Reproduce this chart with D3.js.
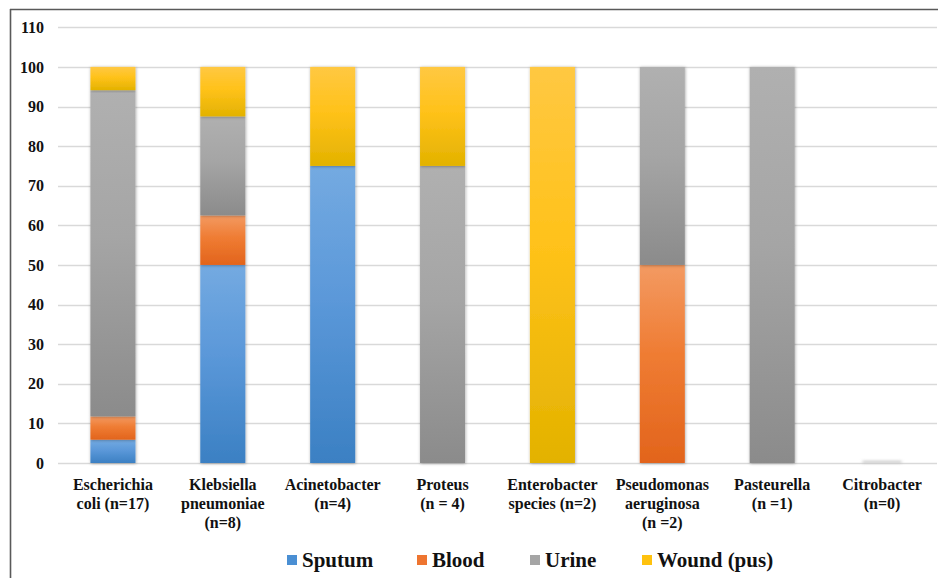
<!DOCTYPE html>
<html>
<head>
<meta charset="utf-8">
<script src="https://cdn.jsdelivr.net/npm/d3@7"></script>
<style>
  html, body { margin: 0; padding: 0; background: #fff; }
  svg { display: block; }
</style>
</head>
<body>
<svg id="chart" width="941" height="578"></svg>
<script>
// Organisms (x-axis labels, one entry per line)
const categories = ["E. coli", "K. pneumoniae", "Acinetobacter", "Proteus", "Enterobacter", "P. aeruginosa", "Pasteurella", "Citrobacter"];
const labelLines = [
  ["Escherichia", "coli (n=17)"],
  ["Klebsiella", "pneumoniae", "(n=8)"],
  ["Acinetobacter", "(n=4)"],
  ["Proteus", "(n = 4)"],
  ["Enterobacter", "species (n=2)"],
  ["Pseudomonas", "aeruginosa", "(n =2)"],
  ["Pasteurella", "(n =1)"],
  ["Citrobacter", "(n=0)"]
];

// Percentage of isolates by specimen type
const sputum = [5.88, 50, 75, 0, 0, 0, 0, 0];
const blood  = [5.88, 12.5, 0, 0, 0, 50, 0, 0];
const urine  = [82.36, 25, 0, 75, 0, 50, 100, 0];
const wound  = [5.88, 12.5, 25, 25, 100, 0, 0, 0];

const seriesNames = ["Sputum", "Blood", "Urine", "Wound (pus)"];
const yTicks = [0, 10, 20, 30, 40, 50, 60, 70, 80, 90, 100, 110];

const FONT = "'Liberation Serif', 'Times New Roman', serif";

// Gradient stops per series: top, middle, bottom
const palette = {
  "Sputum":      ["#74aae1", "#5b98d9", "#3b80c3"],
  "Blood":       ["#f39a62", "#ef7c33", "#e2641c"],
  "Urine":       ["#b0b0b0", "#a5a5a5", "#8b8b8b"],
  "Wound (pus)": ["#ffc842", "#ffc21a", "#e3b200"]
};
const legendColor = {
  "Sputum": "#4a8fd3", "Blood": "#ee7530", "Urine": "#a5a5a5", "Wound (pus)": "#ffc20e"
};

const rows = categories.map((c, i) => ({
  cat: c, "Sputum": sputum[i], "Blood": blood[i], "Urine": urine[i], "Wound (pus)": wound[i]
}));

const svg = d3.select("#chart");
const defs = svg.append("defs");

seriesNames.forEach((s, k) => {
  const g = defs.append("linearGradient")
    .attr("id", "grad" + k).attr("x1", 0).attr("y1", 0).attr("x2", 0).attr("y2", 1);
  g.append("stop").attr("offset", "0%").attr("stop-color", palette[s][0]);
  g.append("stop").attr("offset", "45%").attr("stop-color", palette[s][1]);
  g.append("stop").attr("offset", "100%").attr("stop-color", palette[s][2]);
});

const shadow = defs.append("filter").attr("id", "shadow")
  .attr("x", "-30%").attr("y", "-10%").attr("width", "160%").attr("height", "120%");
shadow.append("feDropShadow").attr("dx", 0.5).attr("dy", 0.5)
  .attr("stdDeviation", 1.6).attr("flood-color", "#000").attr("flood-opacity", 0.35);

const blurF = defs.append("filter").attr("id", "soft")
  .attr("x", "-50%").attr("y", "-300%").attr("width", "200%").attr("height", "700%");
blurF.append("feGaussianBlur").attr("stdDeviation", 1.5);

// Frame
svg.append("line").attr("x1", 10).attr("x2", 938).attr("y1", 9.5).attr("y2", 9.5)
  .attr("stroke", "#595959").attr("stroke-width", 1.6);
svg.append("line").attr("x1", 10.5).attr("x2", 10.5).attr("y1", 9).attr("y2", 578)
  .attr("stroke", "#595959").attr("stroke-width", 1.6);

const x = d3.scaleBand().domain(categories).range([58, 937]).paddingInner(0.59).paddingOuter(0.295);
const y = d3.scaleLinear().domain([0, 110]).range([463, 27.3]);

// Gridlines
svg.append("g").selectAll("line").data(yTicks).join("line")
  .attr("x1", 58).attr("x2", 937)
  .attr("y1", d => Math.round(y(d)) + 0.5).attr("y2", d => Math.round(y(d)) + 0.5)
  .attr("stroke", "#d9d9d9").attr("stroke-width", 1.5);

// Y axis labels
const yAxis = d3.axisLeft(y).tickValues(yTicks).tickSize(0).tickPadding(0).tickFormat(d3.format("d"));
const yg = svg.append("g").attr("transform", "translate(44,0)").call(yAxis);
yg.select(".domain").remove();
yg.selectAll("text")
  .style("font-family", FONT).style("font-weight", "bold").style("font-size", "16px")
  .attr("fill", "#111").attr("dy", "0.32em");

// Stacked bars
const stacked = d3.stack().keys(seriesNames)(rows);
const barG = svg.append("g");
stacked.forEach((layer, k) => {
  barG.append("g").selectAll("rect")
    .data(layer.filter(d => d[1] - d[0] > 0))
    .join("rect")
    .attr("x", d => x(d.data.cat))
    .attr("width", x.bandwidth())
    .attr("y", d => y(d[1]))
    .attr("height", d => y(d[0]) - y(d[1]))
    .attr("fill", "url(#grad" + k + ")")
    .attr("filter", "url(#shadow)");
});

// Faint shadow for empty columns
svg.append("g").selectAll("rect")
  .data(rows.filter(r => seriesNames.every(s => r[s] === 0)))
  .join("rect")
  .attr("x", d => x(d.cat) + 3)
  .attr("width", x.bandwidth() - 6)
  .attr("y", y(0) - 2).attr("height", 2)
  .attr("fill", "#bdbdbd").attr("filter", "url(#soft)");

// X labels
const xl = svg.append("g");
categories.forEach((c, i) => {
  const cx = x(c) + x.bandwidth() / 2;
  const t = xl.append("text")
    .attr("x", cx)
    .attr("y", 490)
    .attr("text-anchor", "middle")
    .attr("fill", "#111")
    .style("font-family", FONT).style("font-weight", "bold").style("font-size", "16px");
  labelLines[i].forEach((line, j) => {
    t.append("tspan").attr("x", cx).attr("dy", j === 0 ? 0 : 18.8).text(line);
  });
});

// Legend
const legendX = [287, 417, 530, 642];
const lg = svg.append("g");
seriesNames.forEach((s, k) => {
  lg.append("rect").attr("x", legendX[k]).attr("y", 555).attr("width", 10).attr("height", 10)
    .attr("fill", legendColor[s]);
  lg.append("text").attr("x", legendX[k] + 15).attr("y", 567)
    .attr("fill", "#111")
    .style("font-family", FONT).style("font-weight", "bold").style("font-size", "21px")
    .text(s);
});
</script>
</body>
</html>
